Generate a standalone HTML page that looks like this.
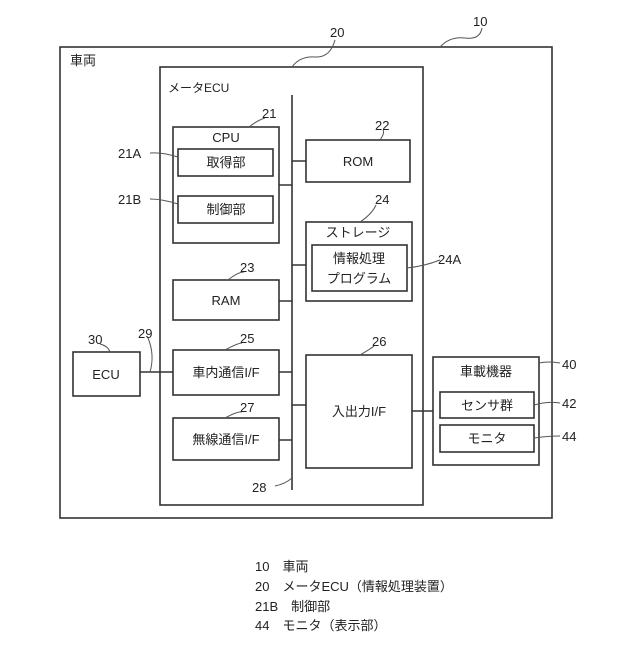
<!DOCTYPE html>
<html><head><meta charset="utf-8"><style>
body{margin:0;background:#fff}
svg text{font-family:"Liberation Sans","Noto Sans CJK JP",sans-serif;fill:#222}
</style></head><body>
<svg width="640" height="640" viewBox="0 0 640 640" xmlns="http://www.w3.org/2000/svg">
<g fill="none" stroke="#333" stroke-width="1.6">
<rect x="60" y="47" width="492" height="471"/>
<rect x="160" y="67" width="263" height="438"/>
<line x1="292" y1="95" x2="292" y2="490"/>
<rect x="173" y="127" width="106" height="116"/>
<rect x="178" y="149" width="95" height="27"/>
<rect x="178" y="196" width="95" height="27"/>
<rect x="306" y="140" width="104" height="42"/>
<rect x="306" y="222" width="106" height="79"/>
<rect x="312" y="245" width="95" height="46"/>
<rect x="173" y="280" width="106" height="40"/>
<rect x="173" y="350" width="106" height="45"/>
<rect x="173" y="418" width="106" height="42"/>
<rect x="306" y="355" width="106" height="113"/>
<rect x="433" y="357" width="106" height="108"/>
<rect x="440" y="392" width="94" height="26"/>
<rect x="440" y="425" width="94" height="27"/>
<rect x="73" y="352" width="67" height="44"/>
<path d="M279 185H292M292 161H306M292 265H306M279 301H292M279 372H292M279 440H292M292 405H306M412 411H433M140 372H173"/>
</g>
<g fill="none" stroke="#555" stroke-width="1">
<path d="M440 47 Q450 36 465 38 T482 28"/>
<path d="M292 67 Q300 56 315 57 T335 40"/>
<path d="M249 127 Q258 120 265 118"/>
<path d="M150 153 Q162 152 178 157"/>
<path d="M150 199 Q162 199 178 204"/>
<path d="M380 140 Q385 133 383 130"/>
<path d="M360 222 Q372 214 376 205"/>
<path d="M407 268 Q425 266 440 260"/>
<path d="M228 280 Q238 272 244 272"/>
<path d="M225 350 Q238 343 242 343"/>
<path d="M360 355 Q372 348 374 346"/>
<path d="M225 418 Q238 411 242 412"/>
<path d="M292 478 Q285 484 275 486"/>
<path d="M150 372 Q155 355 148 338"/>
<path d="M110 352 Q108 346 100 344"/>
<path d="M539 363 Q548 361 560 363"/>
<path d="M534 405 Q548 401 560 403"/>
<path d="M534 438 Q548 436 560 436"/>
</g>
<g font-size="13">
<text x="70" y="65">車両</text>
<text x="168" y="92" font-size="12">メータECU</text>
<text x="226" y="142" text-anchor="middle">CPU</text>
<text x="226" y="167" text-anchor="middle">取得部</text>
<text x="226" y="214" text-anchor="middle">制御部</text>
<text x="358" y="166" text-anchor="middle">ROM</text>
<text x="358" y="237" text-anchor="middle">ストレージ</text>
<text x="359" y="263" text-anchor="middle">情報処理</text>
<text x="359" y="283" text-anchor="middle">プログラム</text>
<text x="226" y="305" text-anchor="middle">RAM</text>
<text x="226" y="377" text-anchor="middle">車内通信I/F</text>
<text x="226" y="444" text-anchor="middle">無線通信I/F</text>
<text x="359" y="416" text-anchor="middle">入出力I/F</text>
<text x="486" y="376" text-anchor="middle">車載機器</text>
<text x="487" y="410" text-anchor="middle">センサ群</text>
<text x="487" y="443" text-anchor="middle">モニタ</text>
<text x="106" y="379" text-anchor="middle">ECU</text>
<text x="473" y="26">10</text>
<text x="330" y="37">20</text>
<text x="262" y="118">21</text>
<text x="375" y="130">22</text>
<text x="375" y="204">24</text>
<text x="438" y="264">24A</text>
<text x="240" y="272">23</text>
<text x="240" y="343">25</text>
<text x="372" y="346">26</text>
<text x="240" y="412">27</text>
<text x="252" y="492">28</text>
<text x="138" y="338">29</text>
<text x="88" y="344">30</text>
<text x="562" y="369">40</text>
<text x="562" y="408">42</text>
<text x="562" y="441">44</text>
<text x="118" y="158">21A</text>
<text x="118" y="204">21B</text>
<text x="255" y="571">10　車両</text>
<text x="255" y="591">20　メータECU（情報処理装置）</text>
<text x="255" y="611">21B　制御部</text>
<text x="255" y="630">44　モニタ（表示部）</text>
</g>
</svg>
</body></html>
